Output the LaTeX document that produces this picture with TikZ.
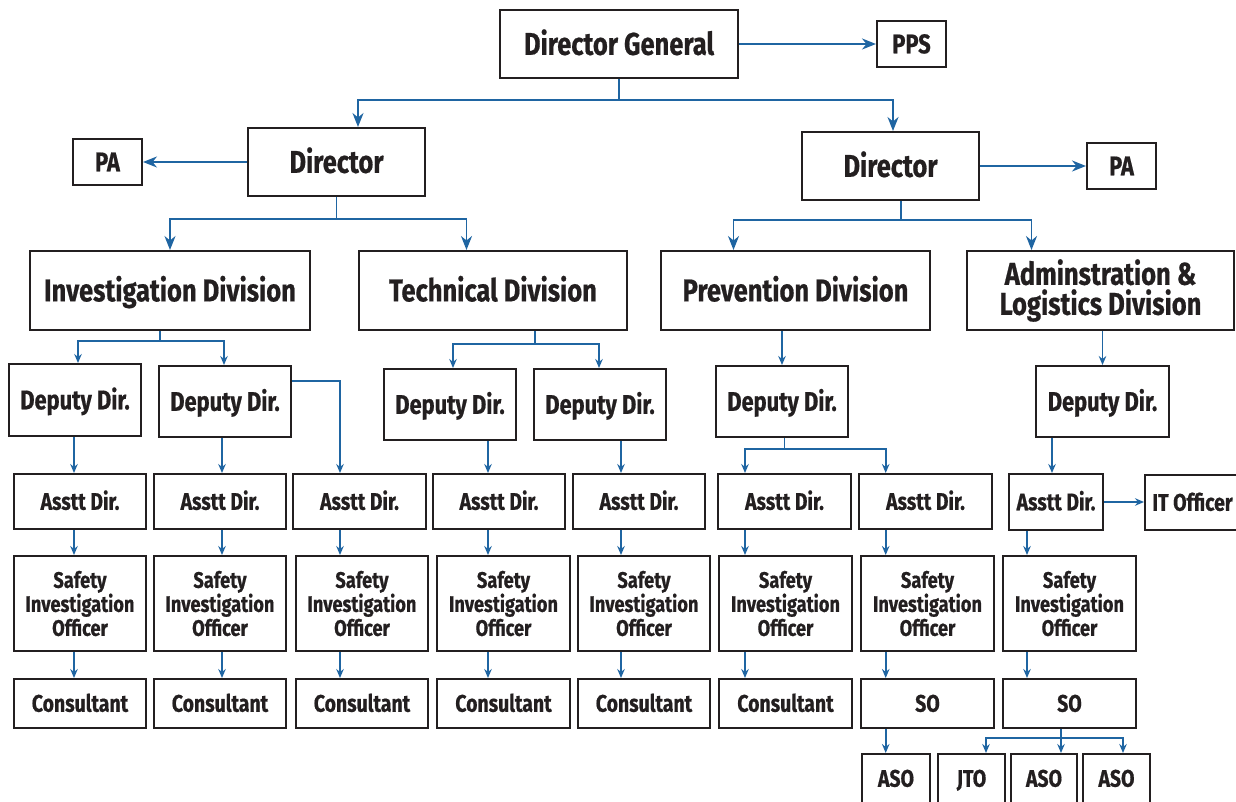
\documentclass[tikz,border=0pt]{standalone}
\usepackage{fontspec}
\setmainfont{Fira Sans}[FakeStretch=0.81, BoldFeatures={FakeBold=0.6}]
\usetikzlibrary{arrows.meta,calc}
\definecolor{linkc}{HTML}{1F65A2}
\definecolor{boxc}{HTML}{231F20}
\tikzset{
  box/.style={draw=boxc, line width=2pt, fill=white, inner sep=0pt, align=center, text=boxc},
  link/.style={draw=linkc, line width=1.8pt},
  arr/.style={link, -{Stealth[length=9pt,width=7.5pt,inset=3pt]}},
  arrB/.style={link, -{Stealth[length=14pt,width=11pt,inset=4.5pt]}},
  fA/.style={font=\fontsize{31.5}{31.5}\selectfont\bfseries, text height=21.7pt, text depth=0pt},
  fAm/.style={font=\fontsize{31.5}{30}\selectfont\bfseries},
  fB/.style={font=\fontsize{27}{27}\selectfont\bfseries, text height=18.6pt, text depth=0pt},
  fC/.style={font=\fontsize{27}{27}\selectfont\bfseries, text height=18.6pt, text depth=0pt},
  fD/.style={font=\fontsize{24}{24}\selectfont\bfseries, text height=16.5pt, text depth=0pt},
  fE/.style={font=\fontsize{22.5}{24}\selectfont\bfseries}
}
\newcommand\bx[7]{\node[box,#7,minimum width={#4-#2},minimum height={#5-#3}] (#1) at ({(#2+#4)/2},{(#3+#5)/2}) {#6};}
\begin{document}
\begin{tikzpicture}[x=1pt,y=-1pt]
\clip (0,0) rectangle (1236,802);
\fill[white] (0,0) rectangle (1236,802);
% column coordinates
\coordinate (c1) at (74,0);
\coordinate (c2) at (222,0);
\coordinate (c3) at (340,0);
\coordinate (c4) at (488,0);
\coordinate (c5) at (621,0);
\coordinate (c6) at (745,0);
\coordinate (c7) at (885.7,0);
\coordinate (c8) at (1027,0);
\coordinate (c9) at (1052,0);
\coordinate (j1) at (986,0);
\coordinate (j2) at (1061,0);
\coordinate (j3) at (1123,0);
% top levels
\bx{dg}{500}{10}{738}{78}{Director General}{fA}
\bx{pps}{877}{21}{946}{67}{PPS}{fB}
\bx{dirL}{248}{128}{425}{196}{Director}{fA}
\bx{paL}{73}{139}{142}{185}{PA}{fB}
\bx{dirR}{802}{132}{979}{200}{Director}{fA}
\bx{paR}{1087}{143}{1156}{189}{PA}{fB}
\bx{invd}{30}{251}{310}{330}{Investigation Division}{fA}
\bx{tech}{359}{251}{627}{330}{Technical Division}{fA}
\bx{prev}{661}{251}{930}{330}{Prevention Division}{fA}
\bx{admin}{967}{251}{1234}{330}{Adminstration \&\\Logistics Division}{fAm}
% deputies
\bx{dd1}{9}{364}{141}{436}{Deputy Dir.}{fC}
\bx{dd2}{159}{366}{291}{437}{Deputy Dir.}{fC}
\bx{dd3}{384}{369}{516}{440}{Deputy Dir.}{fC}
\bx{dd4}{534}{369}{666}{440}{Deputy Dir.}{fC}
\bx{dd5}{716}{366}{848}{437}{Deputy Dir.}{fC}
\bx{dd6}{1036}{366}{1169}{437}{Deputy Dir.}{fC}
% assistants
\bx{a1}{14}{474}{146}{529}{Asstt Dir.}{fD}
\bx{a2}{154}{474}{286}{529}{Asstt Dir.}{fD}
\bx{a3}{293}{474}{426}{529}{Asstt Dir.}{fD}
\bx{a4}{433}{474}{565}{529}{Asstt Dir.}{fD}
\bx{a5}{573}{474}{705}{529}{Asstt Dir.}{fD}
\bx{a6}{718}{474}{851}{529}{Asstt Dir.}{fD}
\bx{a7}{859}{474}{992}{529}{Asstt Dir.}{fD}
\bx{a8}{1009}{474}{1103}{530}{Asstt Dir.}{fD}
\bx{it}{1145}{475}{1240}{530}{IT Officer}{fD}
% safety investigation officers
\bx{s1}{14}{556}{146}{651}{Safety\\Investigation\\Officer}{fE}
\bx{s2}{154}{556}{286}{651}{Safety\\Investigation\\Officer}{fE}
\bx{s3}{296}{556}{428}{651}{Safety\\Investigation\\Officer}{fE}
\bx{s4}{437}{556}{570}{651}{Safety\\Investigation\\Officer}{fE}
\bx{s5}{578}{556}{710}{651}{Safety\\Investigation\\Officer}{fE}
\bx{s6}{719}{556}{852}{651}{Safety\\Investigation\\Officer}{fE}
\bx{s7}{861}{556}{994}{651}{Safety\\Investigation\\Officer}{fE}
\bx{s8}{1003}{556}{1136}{651}{Safety\\Investigation\\Officer}{fE}
% consultants / SO
\bx{k1}{14}{679}{146}{728}{Consultant}{fD}
\bx{k2}{154}{679}{286}{728}{Consultant}{fD}
\bx{k3}{296}{679}{428}{728}{Consultant}{fD}
\bx{k4}{437}{679}{570}{728}{Consultant}{fD}
\bx{k5}{578}{679}{710}{728}{Consultant}{fD}
\bx{k6}{719}{679}{852}{728}{Consultant}{fD}
\bx{k7}{861}{679}{994}{728}{SO}{fD}
\bx{k8}{1003}{679}{1136}{728}{SO}{fD}
% bottom row
\bx{r1}{862}{754}{930}{803}{ASO}{fD}
\bx{r2}{938}{754}{1005}{803}{JTO}{fD}
\bx{r3}{1011}{754}{1077}{803}{ASO}{fD}
\bx{r4}{1083}{754}{1150}{803}{ASO}{fD}
% connectors
\draw[link] (dg.south) -- ++(0,21) coordinate (dgj);
\draw[arrB] (dgj) -| ([xshift=21.5pt]dirL.north);
\draw[arrB] (dgj) -| ([xshift=2.5pt]dirR.north);
\draw[arrB] (dg.east) -- (pps.west);
\draw[arrB] (dirL.west) -- (paL.east);
\draw[arrB] (dirR.east) -- (paR.west);
\draw[link] (dirL.south) -- ++(0,22) coordinate (dlj);
\draw[arrB] (dlj) -| (invd.north);
\draw[arrB] (dlj) -| ([xshift=-26.5pt]tech.north);
\draw[link] ([xshift=10.5pt]dirR.south) -- ++(0,19) coordinate (drj);
\draw[arrB] (drj) -| ([xshift=-62pt]prev.north);
\draw[arrB] (drj) -| ([xshift=-69pt]admin.north);
\draw[link] ([xshift=-10pt]invd.south) -- ++(0,10) coordinate (ij);
\draw[arr] (ij) -| ([xshift=3pt]dd1.north);
\draw[arr] (ij) -| ([xshift=-1pt]dd2.north);
\draw[link] ([xshift=42pt]tech.south) -- ++(0,13) coordinate (tj);
\draw[arr] (tj) -| ([xshift=3pt]dd3.north);
\draw[arr] (tj) -| ([xshift=-1pt]dd4.north);
\draw[arr] (prev.south -| dd5.north) -- (dd5.north);
\draw[arr] (admin.south -| dd6.north) -- (dd6.north);
\draw[arr] (dd1.south -| c1) -- (a1.north -| c1);
\draw[arr] (dd2.south -| c2) -- (a2.north -| c2);
\draw[arr] ([yshift=-16pt]dd2.north east) -| (a3.north -| c3);
\draw[arr] (dd3.south -| c4) -- (a4.north -| c4);
\draw[arr] (dd4.south -| c5) -- (a5.north -| c5);
\draw[link] ([xshift=2.5pt]dd5.south) -- ++(0,11) coordinate (d5j);
\draw[arr] (d5j) -| (a6.north -| c6);
\draw[arr] (d5j) -| (a7.north -| c7);
\draw[arr] (dd6.south -| c9) -- (a8.north -| c9);
\draw[arr] (a8.east) -- (a8.east -| it.west);
\foreach \i in {1,...,8}{
  \draw[arr] (a\i.south -| c\i) -- (s\i.north -| c\i);
  \draw[arr] (s\i.south -| c\i) -- (k\i.north -| c\i);
}
\draw[arr] (k7.south -| c7) -- (r1.north -| c7);
\draw[link] (k8.south -| j2) -- ++(0,8.7) coordinate (sj);
\draw[arr] (sj) -| (r2.north -| j1);
\draw[arr] (sj) -- (r3.north -| j2);
\draw[arr] (sj) -| (r4.north -| j3);
\end{tikzpicture}
\end{document}
